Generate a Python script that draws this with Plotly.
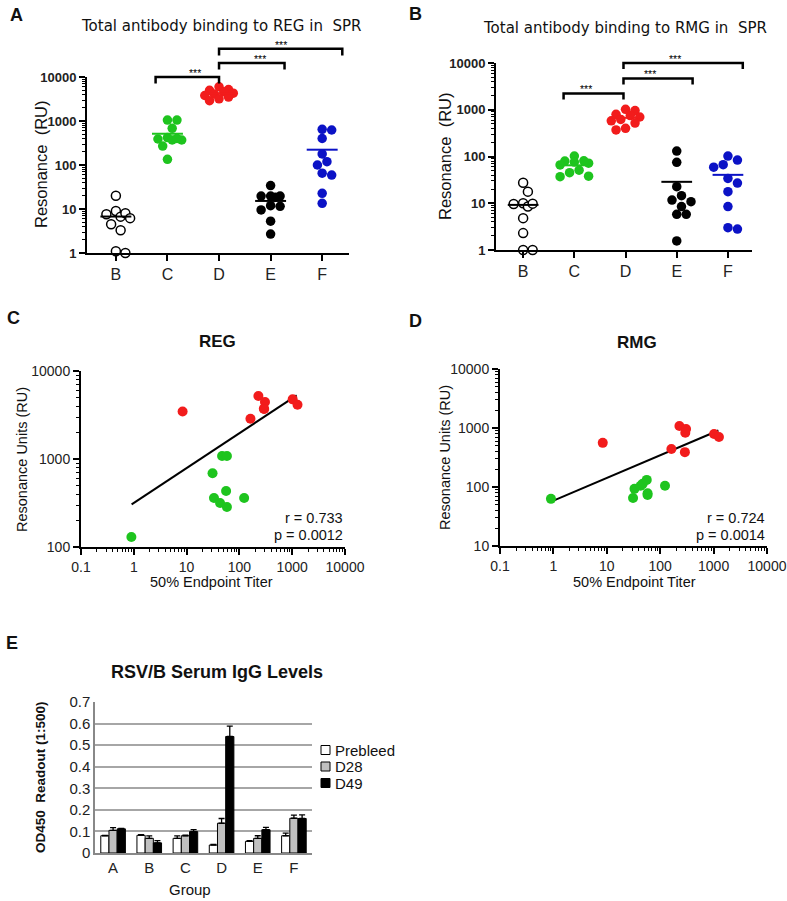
import numpy as np
import plotly.graph_objects as go

W, H = 787, 901
FONT = "Arial, Liberation Sans, sans-serif"

# ---------------- data ----------------
groups_ab = ["B", "C", "D", "E", "F"]
group_colors = ["black", "#1ec41e", "#f21c1c", "black", "#0b12c6"]
group_open = [True, False, False, False, False]

reg_B = [20, 9.0, 7.6, 6.7, 8.0, 6.2, 4.5, 3.3, 1.0, 1.1]
reg_C = [1050, 1050, 680, 420, 370, 390, 370, 400, 270, 135]
reg_D = [6000, 5200, 5000, 4600, 4300, 4100, 3800, 3500, 3200, 2900]
reg_E = [34, 19.7, 19.7, 18.5, 19.7, 11.9, 11.5, 9.5, 5.3, 2.7]
reg_F = [624, 646, 400, 178, 119, 100, 65, 59, 22.7, 13.5]

rmg_B = [27.5, 17.7, 10, 9.6, 8.5, 9.8, 4.8, 2.3, 1.0, 1.0]
rmg_C = [102, 76, 80, 72, 45, 37, 38, 51, 66, 81]
rmg_D = [1020, 960, 800, 750, 700, 620, 580, 520, 400, 370]
rmg_E = [131, 75, 22.6, 14.5, 11.7, 10.8, 8.5, 5.8, 5.8, 1.56]
rmg_F = [102, 84, 59, 67, 27, 34, 17.7, 8.5, 2.8, 3.0]

green_titer = [0.9, 31, 33, 43, 47, 56, 58, 58, 123]
green_reg = [130, 690, 361, 316, 1080, 433, 1080, 285, 361]
green_rmg = [63, 65, 93, 105, 113, 132, 73, 78, 105]
red_titer = [8.4, 162, 229, 290, 305, 1020, 1260, 295]
red_reg = [3470, 2870, 5200, 3730, 4440, 4760, 4140, 3700]
red_rmg = [560, 440, 1080, 390, 960, 790, 705, 830]
fit_reg_x = [0.91, 1216]
fit_reg_y = [305, 5290]
fit_rmg_x = [0.93, 1230]
fit_rmg_y = [57, 908]

e_groups = ["A", "B", "C", "D", "E", "F"]
e_series = ["Prebleed", "D28", "D49"]
prebleed = [0.080, 0.082, 0.068, 0.037, 0.054, 0.080]
prebleed_err = [0.002, 0.003, 0.011, 0.003, 0.003, 0.012]
d28 = [0.105, 0.068, 0.080, 0.138, 0.068, 0.161]
d28_err = [0.013, 0.011, 0.003, 0.022, 0.012, 0.015]
d49 = [0.112, 0.047, 0.099, 0.540, 0.108, 0.160]
d49_err = [0.002, 0.010, 0.009, 0.048, 0.011, 0.017]
e_colors = ["white", "#c0c0c0", "black"]

# ---------------- layout helpers ----------------
def dom_x(a, b):
    return [a / W, b / W]

def dom_y(top, bot):
    return [1 - bot / H, 1 - top / H]

def px(x):
    return x / W

def py(y):
    return 1 - y / H

DOM = {
    "A": (dom_x(87, 349), dom_y(77, 253), [-0.56, 4.52], [0, 4]),
    "B": (dom_x(496, 752), dom_y(63, 250), [-0.53, 4.47], [0, 4]),
}

def to_paper(panel, xc, ylog):
    (dx, dy, rx, ry) = DOM[panel]
    xp = dx[0] + (xc - rx[0]) / (rx[1] - rx[0]) * (dx[1] - dx[0])
    yp = dy[0] + (ylog - ry[0]) / (ry[1] - ry[0]) * (dy[1] - dy[0])
    return xp, yp

def swarm(vals, px_dec, px_cat, d, spread=15):
    y = np.log10(np.array(vals, float)) * px_dec
    order = np.argsort(-y)
    placed, off = [], np.zeros(len(vals))
    cands = [0.0]
    k = 1
    while k * 0.5 * d <= spread:
        cands += [k * 0.5 * d, -k * 0.5 * d]
        k += 1
    for i in order:
        best, bestd = 0.0, -1
        for c in cands:
            md = min([np.hypot(c - a, y[i] - b) for a, b in placed] or [1e9])
            if md >= 0.95 * d:
                best = c
                break
            if md > bestd:
                bestd, best = md, c
        off[i] = best
        placed.append((best, y[i]))
    return off / px_cat

fig = go.Figure()
shapes, annos = [], []

def dot_panel(data, xa, ya, px_dec, px_cat):
    for gi, vals in enumerate(data):
        off = swarm(vals, px_dec, px_cat, 9.5)
        xs = gi + off
        col = group_colors[gi]
        if group_open[gi]:
            mk = dict(size=9, color="white", line=dict(color="black", width=1.5))
        else:
            mk = dict(size=9.5, color=col, line=dict(width=0))
        fig.add_trace(go.Scatter(x=xs, y=vals, mode="markers", marker=mk,
                                 xaxis=xa, yaxis=ya, showlegend=False, cliponaxis=False))
        m = float(np.mean(vals))
        fig.add_trace(go.Scatter(x=[gi - 0.3, gi + 0.3], y=[m, m], mode="lines",
                                 line=dict(color=col, width=2), xaxis=xa, yaxis=ya,
                                 showlegend=False, cliponaxis=False))

dot_panel([reg_B, reg_C, reg_D, reg_E, reg_F], "x", "y", 44, 51.6)
dot_panel([rmg_B, rmg_C, rmg_D, rmg_E, rmg_F], "x2", "y2", 46.75, 51.2)

# significance brackets (x in category units, level in log10 units)
brackets = {
    "A": ([(0.77, 2.0, 4.0), (2.0, 3.27, 4.32), (2.0, 4.39, 4.64)], 0.15),
    "B": ([(0.79, 1.96, 3.35), (1.96, 3.31, 3.67), (1.96, 4.29, 4.0)], 0.13),
}
for panel, (blist, tick) in brackets.items():
    for (x0, x1, lv) in blist:
        a = to_paper(panel, x0, lv - tick)
        b = to_paper(panel, x0, lv)
        c = to_paper(panel, x1, lv)
        d = to_paper(panel, x1, lv - tick)
        shapes.append(dict(type="path", xref="paper", yref="paper",
                           path=f"M {a[0]},{a[1]} L {b[0]},{b[1]} L {c[0]},{c[1]} L {d[0]},{d[1]}",
                           line=dict(color="black", width=2.5)))
        annos.append(dict(x=(b[0] + c[0]) / 2, y=b[1], xref="paper", yref="paper",
                          text="***", showarrow=False, yanchor="bottom", yshift=-4,
                          font=dict(family=FONT, size=10.5, color="#000")))

# correlation panels
def corr_panel(xa, ya, gy, ry, fx, fy):
    fig.add_trace(go.Scatter(x=fx, y=fy, mode="lines", line=dict(color="black", width=2),
                             xaxis=xa, yaxis=ya, showlegend=False))
    fig.add_trace(go.Scatter(x=green_titer, y=gy, mode="markers",
                             marker=dict(size=10, color="#1ec41e"), xaxis=xa, yaxis=ya,
                             showlegend=False, cliponaxis=False))
    fig.add_trace(go.Scatter(x=red_titer, y=ry, mode="markers",
                             marker=dict(size=10, color="#f21c1c"), xaxis=xa, yaxis=ya,
                             showlegend=False, cliponaxis=False))

corr_panel("x3", "y3", green_reg, red_reg, fit_reg_x, fit_reg_y)
corr_panel("x4", "y4", green_rmg, red_rmg, fit_rmg_x, fit_rmg_y)

# bar panel
for name, vals, err, col in zip(e_series, [prebleed, d28, d49],
                                [prebleed_err, d28_err, d49_err], e_colors):
    fig.add_trace(go.Bar(x=e_groups, y=vals, name=name, xaxis="x5", yaxis="y5",
                         showlegend=False,
                         marker=dict(color=col, line=dict(color="black", width=1)),
                         error_y=dict(type="data", array=err, arrayminus=[0] * len(err),
                                      symmetric=False, color="black", thickness=1.3, width=3)))

# ---------------- axes ----------------
dec_vals = [0.1, 1, 10, 100, 1000, 10000]
dec_text = ["0.1", "1", "10", "100", "1000", "10000"]

def minor_vals(lo, hi):
    return [k * 10.0 ** e for e in range(lo, hi) for k in range(2, 10)]

def minor_cfg(lo, hi):
    return dict(tickmode="array", tickvals=minor_vals(lo, hi), ticks="outside", ticklen=3,
                tickwidth=1, tickcolor="black", showgrid=False)

def cat_x(dom, rng, anchor):
    return dict(domain=dom, range=rng, anchor=anchor, tickvals=list(range(5)), ticktext=groups_ab,
                showline=True, linecolor="black", linewidth=2, ticks="outside", ticklen=6,
                tickwidth=2, tickcolor="black", showgrid=False, zeroline=False, automargin=False,
                tickfont=dict(family=FONT, size=16, color="#222"))

def log_y(dom, lo, hi, anchor, bold, size):
    return dict(domain=dom, type="log", range=[lo, hi], anchor=anchor,
                tickvals=[10.0 ** e for e in range(lo, hi + 1)],
                ticktext=[dec_text[e + 1] for e in range(lo, hi + 1)], showline=True,
                linecolor="black", linewidth=2, ticks="outside", ticklen=6, tickwidth=2,
                tickcolor="black", showgrid=False, zeroline=False, automargin=False,
                minor=minor_cfg(lo, hi),
                tickfont=dict(family=FONT, size=size, color="#222",
                              weight="bold" if bold else "normal"))

def log_x(dom, anchor):
    return dict(domain=dom, type="log", range=[-1, 4], anchor=anchor,
                tickvals=dec_vals, ticktext=dec_text, showline=True,
                linecolor="black", linewidth=2, ticks="outside", ticklen=6, tickwidth=2,
                tickcolor="black", showgrid=False, zeroline=False, automargin=False,
                minor=minor_cfg(-1, 4),
                tickfont=dict(family=FONT, size=14, color="#222"))

dA = DOM["A"]; dB = DOM["B"]
fig.update_layout(
    template="none",
    xaxis=cat_x(dA[0], dA[2], "y"),
    yaxis=log_y(dA[1], 0, 4, "x", True, 13),
    xaxis2=cat_x(dB[0], dB[2], "y2"),
    yaxis2=log_y(dB[1], 0, 4, "x2", True, 13),
    xaxis3=log_x(dom_x(81, 345), "y3"),
    yaxis3=log_y(dom_y(371, 547), 2, 4, "x3", False, 14),
    xaxis4=log_x(dom_x(500, 767), "y4"),
    yaxis4=log_y(dom_y(369, 546), 1, 4, "x4", False, 14),
    xaxis5=dict(domain=dom_x(95, 312), anchor="y5", showline=True, linecolor="#888",
                linewidth=1.5, ticks="", showgrid=False, automargin=False,
                tickfont=dict(family=FONT, size=15, color="#222")),
    yaxis5=dict(domain=dom_y(702, 853), range=[0, 0.7], anchor="x5",
                tickvals=[0, 0.1, 0.2, 0.3, 0.4, 0.5, 0.6, 0.7],
                ticktext=["0", "0.1", "0.2", "0.3", "0.4", "0.5", "0.6", "0.7"],
                showgrid=True, gridcolor="#a6a6a6", gridwidth=1.5, showline=True,
                linecolor="#888", linewidth=1.5, zeroline=False, ticks="", automargin=False,
                tickfont=dict(family=FONT, size=15, color="#222")),
    barmode="group", bargap=0.32, bargroupgap=0.0,
)

# ---------------- texts ----------------
def txt(x, y, s, size, bold=False, family=FONT, angle=0, xanchor="center", yanchor="middle", color="#111"):
    annos.append(dict(x=px(x), y=py(y), xref="paper", yref="paper", text=s, showarrow=False,
                      textangle=angle, xanchor=xanchor, yanchor=yanchor,
                      font=dict(family=family, size=size, color=color,
                                weight="bold" if bold else "normal")))

txt(16, 15, "A", 18, bold=True)
txt(415, 14, "B", 18, bold=True)
txt(13, 318, "C", 18, bold=True)
txt(415, 321, "D", 18, bold=True)
txt(12, 643, "E", 18, bold=True)

txt(221, 26, "Total antibody binding to REG in  SPR", 15, family="DejaVu Sans")
txt(625, 28, "Total antibody binding to RMG in  SPR", 15, family="DejaVu Sans")
txt(41, 165, "Resonance  (RU)", 16.5, angle=-90)
txt(445, 157, "Resonance  (RU)", 16.5, angle=-90)

txt(217, 342, "REG", 17, bold=True)
txt(637, 343, "RMG", 17, bold=True)
txt(22, 460, "Resonance Units (RU)", 14.5, angle=-90)
txt(445, 458, "Resonance Units (RU)", 14.5, angle=-90)
txt(212, 582, "50% Endpoint Titer", 14.5)
txt(634, 582, "50% Endpoint Titer", 14.5)
txt(345, 518, "r = 0.733", 14.5, xanchor="right")
txt(345, 535, "p = 0.0012", 14.5, xanchor="right")
txt(767, 518, "r = 0.724", 14.5, xanchor="right")
txt(767, 535, "p = 0.0014", 14.5, xanchor="right")

txt(217, 672, "RSV/B Serum IgG Levels", 18, bold=True)
txt(40, 777, "OD450  Readout (1:500)", 13.5, bold=True, angle=-90)
txt(190, 889, "Group", 15)

# legend for panel E (keys + labels)
for i, (name, col) in enumerate(zip(e_series, e_colors)):
    yc = 750 + i * 16.5
    shapes.append(dict(type="rect", xref="paper", yref="paper",
                       x0=px(321), x1=px(330), y0=py(yc + 4.5), y1=py(yc - 4.5),
                       fillcolor=col, line=dict(color="black", width=1)))
    txt(333, yc, name, 15, xanchor="left")

fig.update_layout(
    width=W, height=H, margin=dict(l=0, r=0, t=0, b=0, pad=0, autoexpand=False),
    paper_bgcolor="white", plot_bgcolor="white",
    shapes=shapes, annotations=annos, showlegend=False,
)

fig.write_html("out.html", config={"displayModeBar": False},
               post_script="document.body.style.margin='0px';document.body.style.padding='0px';")
